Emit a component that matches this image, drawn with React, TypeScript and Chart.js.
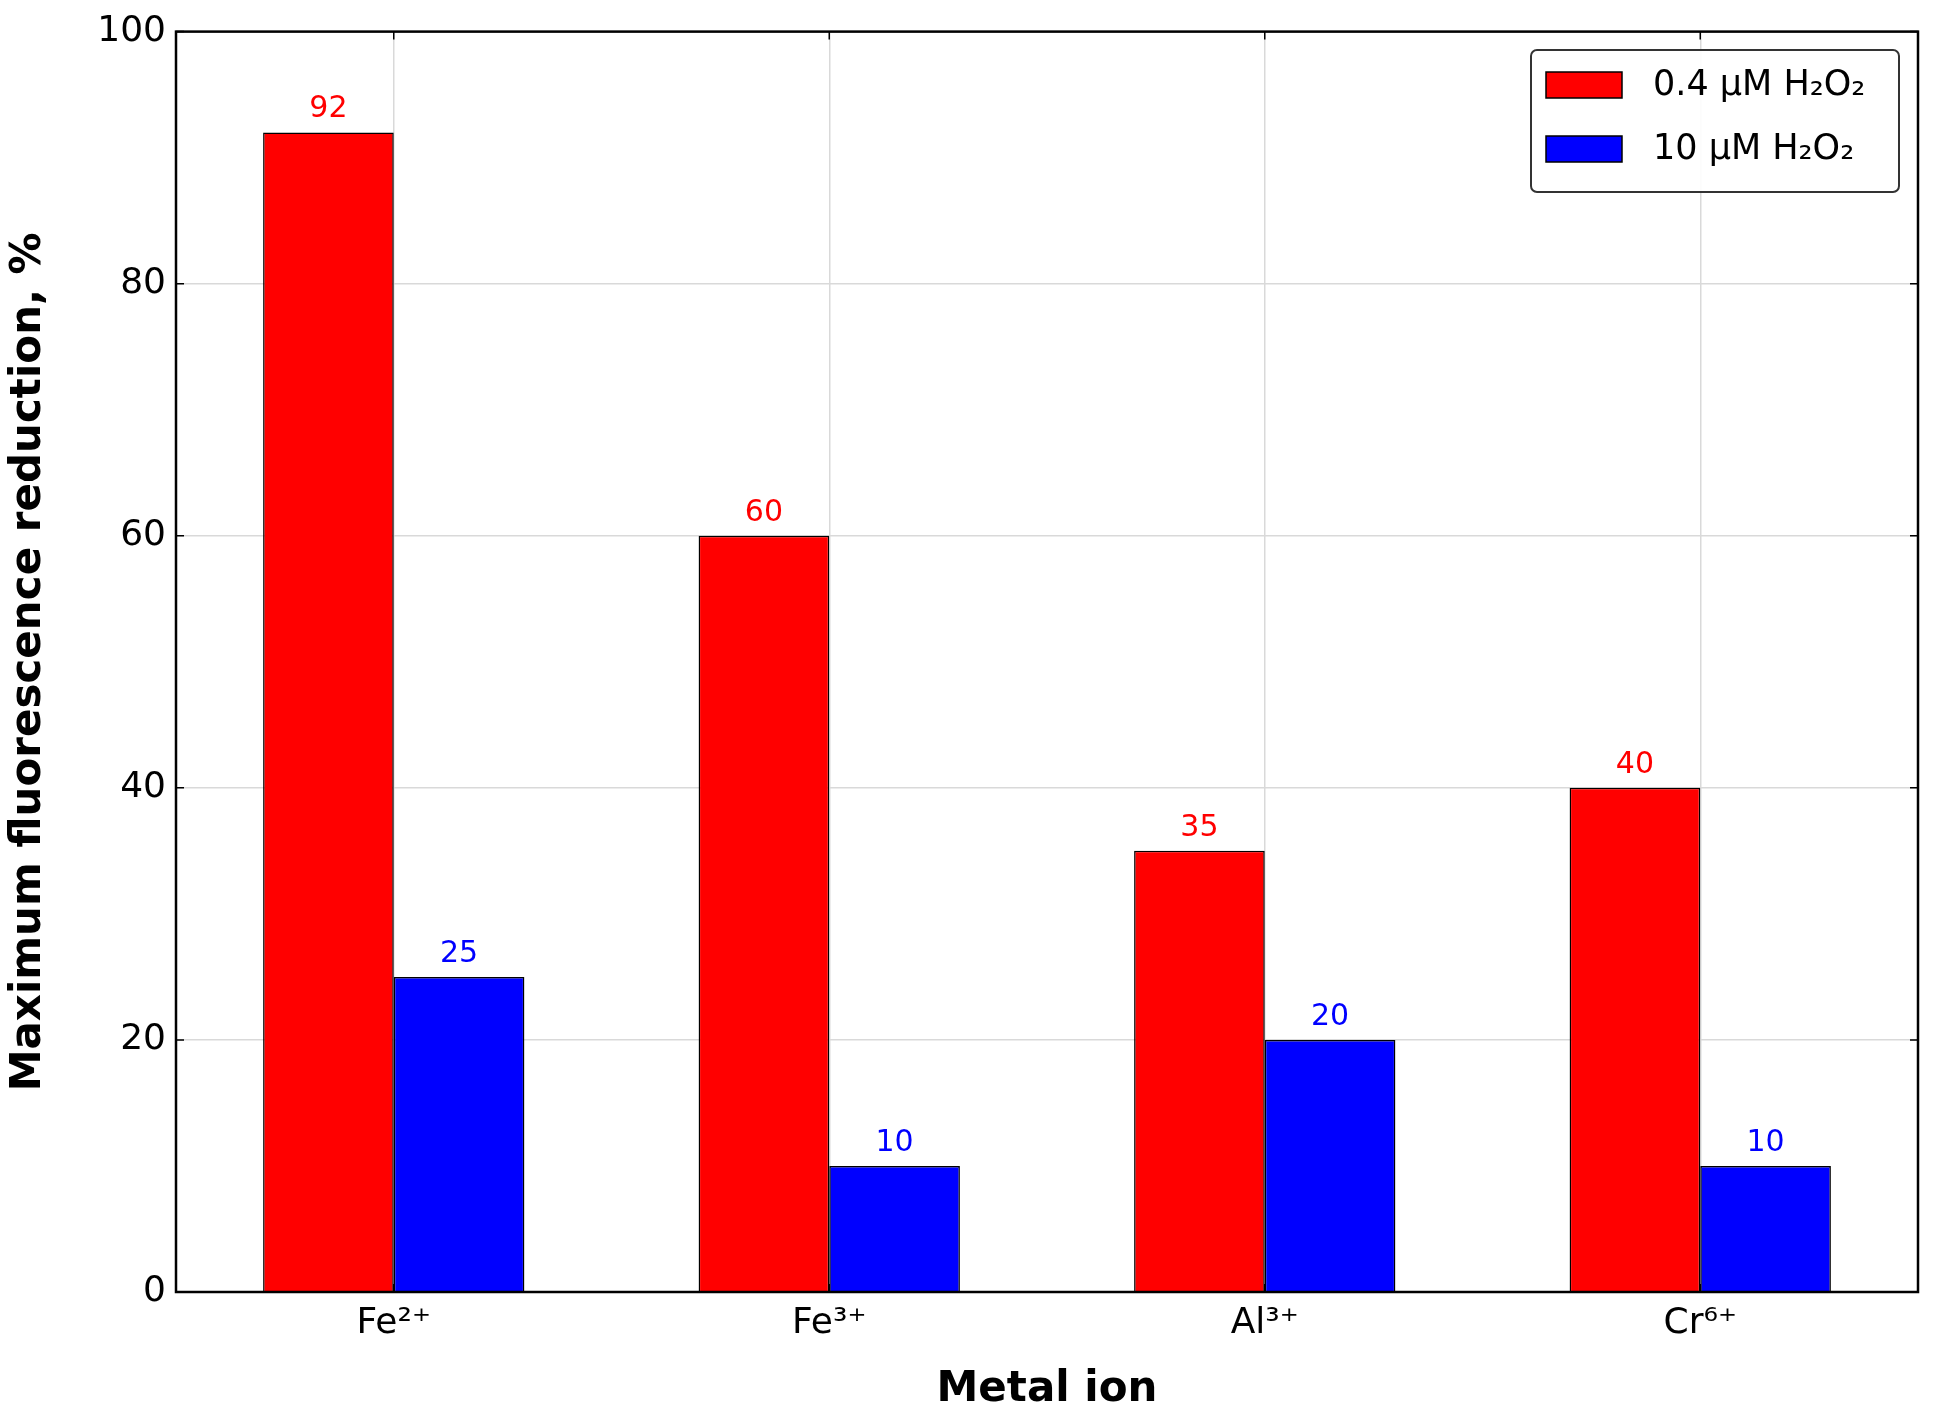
import React, { useEffect, useRef } from "react";
import { Chart, registerables } from "chart.js";
Chart.register(...registerables);

const categories = ["Fe²⁺", "Fe³⁺", "Al³⁺", "Cr⁶⁺"];
const lowH2O2 = [92, 60, 35, 40];
const highH2O2 = [25, 10, 20, 10];
const seriesNames = ["0.4 µM H₂O₂", "10 µM H₂O₂"];
const yTicks = [0, 20, 40, 60, 80, 100];

const FONT = "'DejaVu Sans', sans-serif";

const overlay = {
  id: "overlay",
  afterDatasetsDraw(chart: any) {
    const ctx = chart.ctx;
    const a = chart.chartArea;
    ctx.save();
    // value labels
    chart.data.datasets.forEach((ds: any, i: number) => {
      const meta = chart.getDatasetMeta(i);
      meta.data.forEach((bar: any, j: number) => {
        ctx.fillStyle = ds.backgroundColor;
        ctx.font = `30px ${FONT}`;
        ctx.textAlign = "center";
        ctx.textBaseline = "bottom";
        ctx.fillText(String(ds.data[j]), bar.x, bar.y - 8);
      });
    });
    // ticks inward on all sides
    ctx.strokeStyle = "#000";
    ctx.lineWidth = 1.5;
    const ys = chart.scales.y;
    yTicks.forEach((v) => {
      const y = ys.getPixelForValue(v);
      ctx.beginPath();
      ctx.moveTo(a.left, y); ctx.lineTo(a.left + 8, y);
      ctx.moveTo(a.right, y); ctx.lineTo(a.right - 8, y);
      ctx.stroke();
    });
    const xs = chart.scales.x;
    categories.forEach((_, k) => {
      const x = xs.getPixelForValue(k);
      ctx.beginPath();
      ctx.moveTo(x, a.bottom); ctx.lineTo(x, a.bottom - 8);
      ctx.moveTo(x, a.top); ctx.lineTo(x, a.top + 8);
      ctx.stroke();
    });
    // frame
    ctx.lineWidth = 2.5;
    ctx.strokeRect(a.left, a.top, a.right - a.left, a.bottom - a.top);
    // legend
    const lx = 1531, ly = 50, lw = 368, lh = 142;
    ctx.fillStyle = "rgba(255,255,255,0.9)";
    ctx.lineWidth = 2;
    ctx.strokeStyle = "#333";
    ctx.beginPath();
    (ctx as any).roundRect(lx, ly, lw, lh, 6);
    ctx.fill();
    ctx.stroke();
    chart.data.datasets.forEach((ds: any, i: number) => {
      const y = ly + 22 + i * 64;
      ctx.fillStyle = ds.backgroundColor;
      ctx.fillRect(lx + 15, y, 76, 26);
      ctx.strokeStyle = "#000";
      ctx.lineWidth = 1.5;
      ctx.strokeRect(lx + 15, y, 76, 26);
      ctx.fillStyle = "#000";
      ctx.font = `35px ${FONT}`;
      ctx.textAlign = "left";
      ctx.textBaseline = "middle";
      ctx.fillText(seriesNames[i], lx + 122, y + 14);
    });
    ctx.restore();
  },
};

export default function App() {
  const ref = useRef<HTMLCanvasElement>(null);
  useEffect(() => {
    document.body.style.margin = "0";
    const chart = new Chart(ref.current!, {
      type: "bar",
      data: {
        labels: categories,
        datasets: [
          { label: seriesNames[0], data: lowH2O2, backgroundColor: "#ff0000", borderColor: "#000", borderWidth: 1.5 },
          { label: seriesNames[1], data: highH2O2, backgroundColor: "#0000ff", borderColor: "#000", borderWidth: 1.5 },
        ],
      },
      options: {
        responsive: false,
        animation: false,
        layout: { padding: { top: 29, right: 17, left: 0, bottom: 0 } },
        datasets: { bar: { categoryPercentage: 0.6, barPercentage: 1 } },
        plugins: { legend: { display: false }, tooltip: { enabled: false } },
        scales: {
          x: {
            grid: { offset: false, color: "#d9d9d9", lineWidth: 1.5, drawTicks: false },
            border: { display: false },
            ticks: { color: "#000", font: { family: FONT, size: 36 }, padding: 10 },
            title: { display: true, text: "Metal ion", color: "#000", font: { family: FONT, size: 42, weight: "bold" }, padding: { top: 10 } },
            afterFit: (s: any) => { s.height = 127; },
          },
          y: {
            min: 0, max: 100,
            grid: { color: "#d9d9d9", lineWidth: 1.5, drawTicks: false },
            border: { display: false },
            ticks: { stepSize: 20, color: "#000", font: { family: FONT, size: 36 }, padding: 10 },
            title: { display: true, text: "Maximum fluorescence reduction, %", color: "#000", font: { family: FONT, size: 42, weight: "bold" }, padding: { bottom: 12 } },
            afterFit: (s: any) => { s.width = 176; },
          },
        },
      } as any,
      plugins: [overlay],
    });
    return () => chart.destroy();
  }, []);
  return <canvas ref={ref} width={1935} height={1419} style={{ display: "block" }} />;
}
